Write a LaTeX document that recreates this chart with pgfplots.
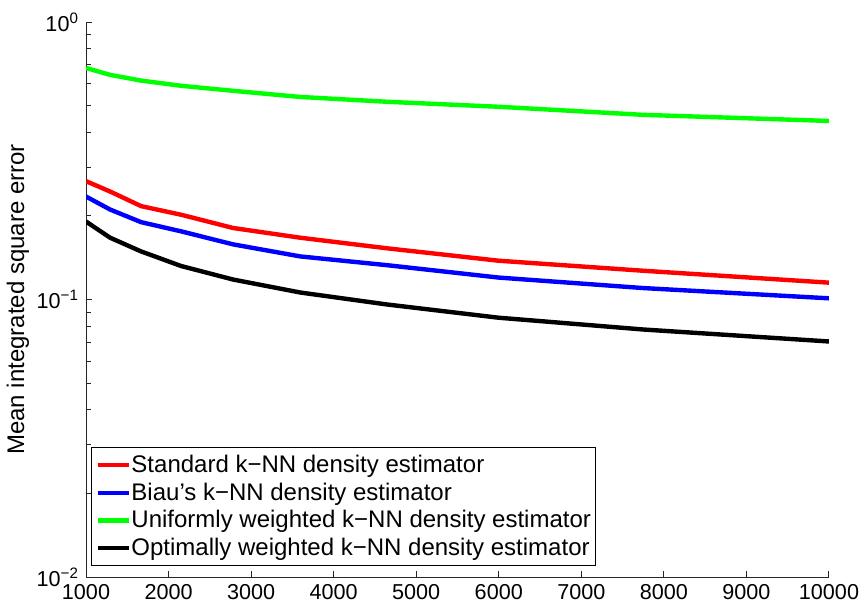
\documentclass[border=0pt]{standalone}
\usepackage{fontspec}
\setmainfont{Liberation Sans}
\usepackage{pgfplots}
\pgfplotsset{compat=1.18}

\definecolor{axisgray}{RGB}{38,38,38}

\begin{document}
\begin{tikzpicture}
\path[use as bounding box] (-43pt,-17pt) rectangle (389.5pt,288.5pt);
\begin{axis}[
  scale only axis,
  width=371.5pt, height=277.5pt,
  ymode=log,
  xmin=1000, xmax=10000,
  ymin=0.01, ymax=1,
  axis x line*=bottom,
  axis y line*=left,
  axis line style={axisgray, line width=0.5pt},
  every tick/.style={axisgray, line width=0.5pt},
  major tick length=3.2pt,
  minor tick length=2.3pt,
  tick align=inside,
  xtick={1000,2000,...,10000},
  scaled x ticks=false,
  ytick={0.01,0.1,1},
  yticklabels={10\textsuperscript{−2},10\textsuperscript{−1},10\textsuperscript{0}},
  /pgf/number format/assume math mode=true,
  /pgf/number format/1000 sep={},
  /pgf/number format/fixed,
  ticklabel style={font=\fontsize{10.8}{13}\selectfont},
  ylabel={Mean integrated square error},
  every axis y label/.style={at={(axis description cs:-0.0915,0.5)}, rotate=90, anchor=center,
    font=\fontsize{12}{14}\selectfont},
  legend style={
    at={(0.0067,0.02)}, anchor=south west,
    draw=black, line width=0.5pt, fill=white,
    font=\fontsize{12}{14}\selectfont,
    inner xsep=2pt, inner ysep=1.6pt,
    row sep=-0.4pt,
    nodes={inner xsep=0.3pt},
    cells={anchor=west},
  },
  legend image code/.code={\draw[#1, line width=2.2pt] (0pt,0pt) -- (15.5pt,0pt);},
  every axis plot/.append style={line width=2.2pt},
]
\addplot[red] coordinates {
  (1000,0.267) (1292,0.245) (1668,0.217) (2154,0.202) (2783,0.181)
  (3594,0.167) (4642,0.153) (5995,0.138) (7743,0.127) (10000,0.115)};
\addlegendentry{Standard k−NN density estimator}
\addplot[blue] coordinates {
  (1000,0.235) (1292,0.211) (1668,0.190) (2154,0.176) (2783,0.158)
  (3594,0.143) (4642,0.133) (5995,0.120) (7743,0.110) (10000,0.101)};
\addlegendentry{Biau’s k−NN density estimator}
\addplot[green] coordinates {
  (1000,0.683) (1292,0.645) (1668,0.615) (2154,0.589) (2783,0.565)
  (3594,0.537) (4642,0.516) (5995,0.495) (7743,0.463) (10000,0.440)};
\addlegendentry{Uniformly weighted k−NN density estimator}
\addplot[black] coordinates {
  (1000,0.191) (1292,0.167) (1668,0.149) (2154,0.132) (2783,0.118)
  (3594,0.106) (4642,0.096) (5995,0.086) (7743,0.078) (10000,0.0706)};
\addlegendentry{Optimally weighted k−NN density estimator}
\end{axis}
\end{tikzpicture}
\end{document}
